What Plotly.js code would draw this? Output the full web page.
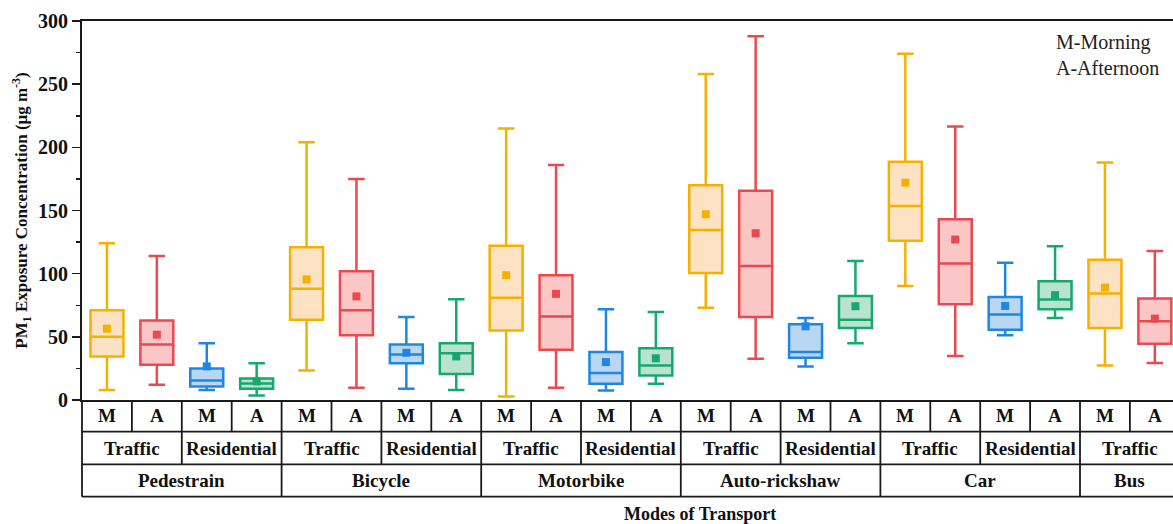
<!DOCTYPE html>
<html>
<head>
<meta charset="utf-8">
<script src="https://cdn.plot.ly/plotly-3.0.1.min.js"></script>
<style>html,body{margin:0;padding:0;background:#fff;}#chart{width:1173px;height:524px;}</style>
</head>
<body>
<div id="chart"></div>
<script>
// ---------- data ----------
const modes = ['Pedestrain', 'Bicycle', 'Motorbike', 'Auto-rickshaw', 'Car', 'Bus'];
const modeSites = [['Traffic', 'Residential'], ['Traffic', 'Residential'], ['Traffic', 'Residential'],
                   ['Traffic', 'Residential'], ['Traffic', 'Residential'], ['Traffic']];
const periods = ['M', 'A'];

// Traffic - Morning
const trafM_upper = [124, 204, 215, 258, 274, 188];
const trafM_q3    = [71, 121, 122, 170, 188.5, 111];
const trafM_med   = [50, 88, 81, 134.5, 153.6, 84.3];
const trafM_q1    = [34.5, 63.6, 55, 100.6, 126, 57];
const trafM_lower = [8, 23.4, 2.7, 73, 90.3, 27.4];
const trafM_mean  = [56.5, 95.4, 98.8, 147, 172, 89];

// Traffic - Afternoon
const trafA_upper = [114, 175, 186, 288, 216.5, 118];
const trafA_q3    = [63, 102, 98.8, 165.7, 143, 80.3];
const trafA_med   = [44, 71, 66, 106, 108, 62.3];
const trafA_q1    = [28, 51.2, 39.8, 65.7, 75.8, 44.6];
const trafA_lower = [12, 9.7, 9.7, 32.7, 34.8, 29.2];
const trafA_mean  = [51.7, 82, 84, 132, 127, 64.4];

// Residential - Morning
const resM_upper = [45, 65.7, 71.8, 65, 108.6];
const resM_q3    = [25, 44, 38, 60, 81.6];
const resM_med   = [15.5, 36, 21.3, 38, 67.6];
const resM_q1    = [10.7, 29, 12.8, 33.5, 55.7];
const resM_lower = [8, 8.9, 7.5, 26.6, 51.2];
const resM_mean  = [26.6, 37.4, 30, 58.3, 74.4];

// Residential - Afternoon
const resA_upper = [29, 79.8, 69.7, 110, 121.8];
const resA_q3    = [17, 45, 41, 82.4, 94];
const resA_med   = [13, 37, 27.4, 63.6, 79.5];
const resA_q1    = [9, 20.6, 19.4, 57, 71.8];
const resA_lower = [3.6, 8, 12.8, 45, 65];
const resA_mean  = [14.7, 34.5, 33, 74.2, 83];

const yTicks = [0, 50, 100, 150, 200, 250, 300];

// ---------- layout helpers ----------
const W = 1173, H = 524;
const M = {l: 82, r: 0, t: 21, b: 124};
const plotH = H - M.t - M.b;
const slotPx = 49.9;
const xMax = -0.5 + (W - M.l - M.r) / slotPx;
function py(p) { return (H - M.b - p) / plotH; }   // pixel row -> paper y

// slot index for each (mode, site, period)
let slotIdx = 0;
const slots = [];
modes.forEach((m, mi) => {
  modeSites[mi].forEach((s, si) => {
    periods.forEach((p, pi) => {
      slots.push({mi, si, pi, x: slotIdx});
      slotIdx++;
    });
  });
});
function xsFor(si, pi) {
  return slots.filter(o => o.si === si && o.pi === pi).map(o => o.x);
}

const series = [
  {si: 0, pi: 0, line: '#F5B000', fill: '#FDE3C4', u: trafM_upper, q3: trafM_q3, med: trafM_med, q1: trafM_q1, lo: trafM_lower, mean: trafM_mean},
  {si: 0, pi: 1, line: '#EC4850', fill: '#FBC6C6', u: trafA_upper, q3: trafA_q3, med: trafA_med, q1: trafA_q1, lo: trafA_lower, mean: trafA_mean},
  {si: 1, pi: 0, line: '#1F86E2', fill: '#B9D7F3', u: resM_upper, q3: resM_q3, med: resM_med, q1: resM_q1, lo: resM_lower, mean: resM_mean},
  {si: 1, pi: 1, line: '#17A86E', fill: '#BAE3CF', u: resA_upper, q3: resA_q3, med: resA_med, q1: resA_q1, lo: resA_lower, mean: resA_mean}
];

const traces = [];
series.forEach(s => {
  const xs = xsFor(s.si, s.pi);
  traces.push({
    type: 'box', x: xs, q1: s.q1, median: s.med, q3: s.q3,
    lowerfence: s.lo, upperfence: s.u,
    width: 0.66, whiskerwidth: 0.5,
    line: {color: s.line, width: 2.5}, fillcolor: s.fill,
    boxpoints: false, hoverinfo: 'skip', showlegend: false
  });
  traces.push({
    type: 'scatter', mode: 'markers', x: xs, y: s.mean,
    marker: {symbol: 'square', size: 8, color: s.line},
    hoverinfo: 'skip', showlegend: false
  });
});

// ---------- table below axis ----------
const serif = 'Liberation Serif, Times New Roman, serif';
const rowLines = [400, 431.7, 464.3, 496.7];
const shapes = [];
const annotations = [];
const lineStyle = {color: '#1a1a1a', width: 1.8};

rowLines.slice(1).forEach(p => {
  shapes.push({type: 'line', xref: 'paper', yref: 'paper', x0: 0, x1: 1, y0: py(p), y1: py(p), line: lineStyle});
});
shapes.push({type: 'line', xref: 'paper', yref: 'paper', x0: 0, x1: 0, y0: py(rowLines[0]), y1: py(rowLines[3]), line: lineStyle});

slots.forEach((o, k) => {
  if (k === 0) return;
  const prev = slots[k - 1];
  let bottom = rowLines[1];
  if (o.si !== prev.si || o.mi !== prev.mi) bottom = rowLines[2];
  if (o.mi !== prev.mi) bottom = rowLines[3];
  shapes.push({type: 'line', xref: 'x', yref: 'paper', x0: o.x - 0.5, x1: o.x - 0.5,
               y0: py(rowLines[0]), y1: py(bottom), line: lineStyle});
});

const tFont = {family: serif, size: 19, color: '#111', weight: 'bold'};
slots.forEach(o => {
  annotations.push({xref: 'x', yref: 'paper', x: o.x, y: py((rowLines[0] + rowLines[1]) / 2),
    text: periods[o.pi], showarrow: false, xanchor: 'center', yanchor: 'middle', font: tFont});
});
modes.forEach((m, mi) => {
  modeSites[mi].forEach((s, si) => {
    const xs = slots.filter(o => o.mi === mi && o.si === si).map(o => o.x);
    const xc = (xs[0] + xs[xs.length - 1]) / 2;
    annotations.push({xref: 'x', yref: 'paper', x: xc, y: py((rowLines[1] + rowLines[2]) / 2),
      text: s, showarrow: false, xanchor: 'center', yanchor: 'middle', font: tFont});
  });
  const xs = slots.filter(o => o.mi === mi).map(o => o.x);
  const xc = (xs[0] + xs[xs.length - 1]) / 2;
  annotations.push({xref: 'x', yref: 'paper', x: xc, y: py((rowLines[2] + rowLines[3]) / 2),
    text: m, showarrow: false, xanchor: 'center', yanchor: 'middle', font: tFont});
});

annotations.push({xref: 'paper', yref: 'paper', x: (700 - M.l) / (W - M.l - M.r), y: py(514),
  text: 'Modes of Transport', showarrow: false, xanchor: 'center', yanchor: 'middle',
  font: {family: serif, size: 18, color: '#111', weight: 'bold'}});

annotations.push({xref: 'paper', yref: 'paper', x: (1054 - M.l) / (W - M.l - M.r), y: py(29),
  text: 'M-Morning<br>A-Afternoon', showarrow: false, xanchor: 'left', yanchor: 'top', align: 'left',
  font: {family: serif, size: 20, color: '#222'}});

const layout = {
  width: W, height: H,
  margin: M,
  paper_bgcolor: '#fff', plot_bgcolor: '#fff',
  showlegend: false,
  boxmode: 'overlay',
  xaxis: {
    range: [-0.5, xMax], showgrid: false, zeroline: false,
    showticklabels: false, ticks: '',
    showline: true, linecolor: '#1a1a1a', linewidth: 2, mirror: true
  },
  yaxis: {
    range: [0, 300], tickvals: yTicks, ticktext: yTicks.map(String),
    showgrid: false, zeroline: false,
    ticks: 'outside', ticklen: 8, tickwidth: 1.5, tickcolor: '#1a1a1a',
    minor: {dtick: 25, tick0: 0, ticks: 'outside', ticklen: 4, tickwidth: 1.5, tickcolor: '#1a1a1a'},
    showline: true, linecolor: '#1a1a1a', linewidth: 2,
    tickfont: {family: serif, size: 20, color: '#111', weight: 'bold'},
    title: {text: 'PM<sub>1</sub> Exposure Concentration (μg m<sup>-3</sup>)',
            font: {family: serif, size: 17, color: '#111', weight: 'bold'}, standoff: 6}
  },
  shapes: shapes,
  annotations: annotations
};

Plotly.newPlot('chart', traces, layout, {staticPlot: true, displayModeBar: false});
</script>
</body>
</html>
